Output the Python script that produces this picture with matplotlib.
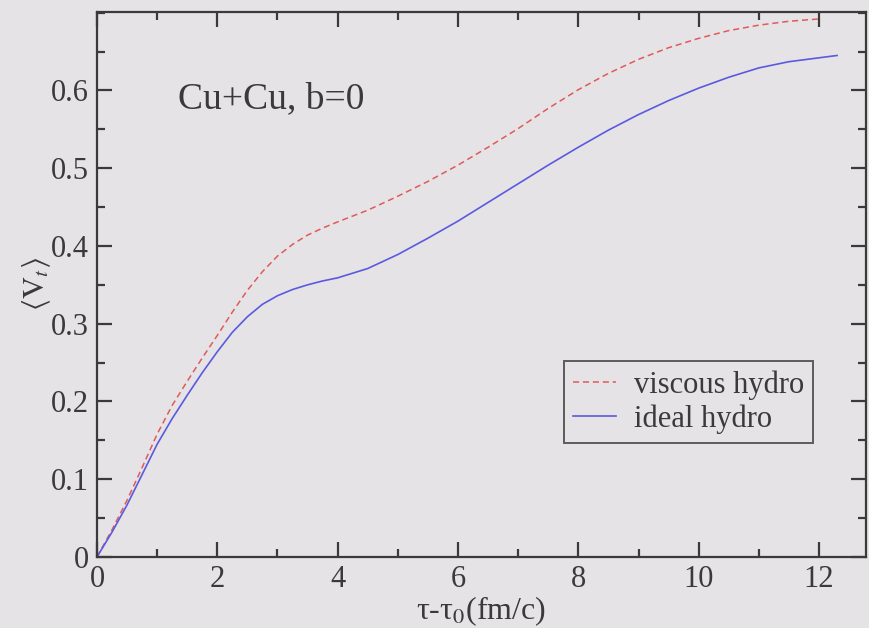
import matplotlib
matplotlib.use("Agg")
import matplotlib.pyplot as plt
from matplotlib.ticker import MultipleLocator, FixedLocator, FixedFormatter

# Transverse flow velocity versus proper time for Cu+Cu central collisions
t_visc = [0, 0.25, 0.5, 0.75, 1.0, 1.25, 1.5, 1.75, 2.0, 2.25, 2.5, 2.75, 3.0,
          3.25, 3.5, 3.75, 4.0, 4.5, 5.0, 5.5, 6.0, 6.5, 7.0, 7.5, 8.0, 8.5,
          9.0, 9.5, 10.0, 10.5, 11.0, 11.5, 12.0]
v_visc = [0, 0.035, 0.073, 0.115, 0.158, 0.195, 0.226, 0.256, 0.285, 0.315,
          0.343, 0.367, 0.387, 0.402, 0.414, 0.423, 0.431, 0.446, 0.464,
          0.483, 0.504, 0.527, 0.551, 0.577, 0.601, 0.622, 0.640, 0.655,
          0.667, 0.677, 0.684, 0.689, 0.692]

t_ideal = [0, 0.25, 0.5, 0.75, 1.0, 1.25, 1.5, 1.75, 2.0, 2.25, 2.5, 2.75,
           3.0, 3.25, 3.5, 3.75, 4.0, 4.5, 5.0, 5.5, 6.0, 6.5, 7.0, 7.5, 8.0,
           8.5, 9.0, 9.5, 10.0, 10.5, 11.0, 11.5, 12.0, 12.3]
v_ideal = [0, 0.032, 0.067, 0.106, 0.145, 0.178, 0.208, 0.237, 0.264, 0.289,
           0.309, 0.325, 0.336, 0.344, 0.350, 0.355, 0.359, 0.371, 0.389,
           0.410, 0.432, 0.456, 0.480, 0.504, 0.527, 0.549, 0.569, 0.587,
           0.603, 0.617, 0.629, 0.637, 0.642, 0.645]

x_ticks = [0, 2, 4, 6, 8, 10, 12]
x_labels = ["0", "2", "4", "6", "8", "10", "12"]
y_ticks = [0, 0.1, 0.2, 0.3, 0.4, 0.5, 0.6]
y_labels = ["0", "0.1", "0.2", "0.3", "0.4", "0.5", "0.6"]

bg = "#e6e3e6"
ink = "#3a3a3a"

plt.rcParams["font.family"] = ["Liberation Serif", "DejaVu Serif"]
plt.rcParams["mathtext.fontset"] = "stix"

fig = plt.figure(figsize=(8.69, 6.28), dpi=100, facecolor=bg)
ax = fig.add_axes([0.1116, 0.1131, 0.8849, 0.8679])
ax.set_facecolor(bg)

ax.plot(t_visc, v_visc, color="#e05a5a", lw=1.1, ls=(0, (4, 2.5)),
        label="viscous hydro")
ax.plot(t_ideal, v_ideal, color="#5a5ae0", lw=1.2, label="ideal hydro")

ax.set_xlim(0, 12.78)
ax.set_ylim(0, 0.701)

ax.xaxis.set_major_locator(FixedLocator(x_ticks))
ax.xaxis.set_major_formatter(FixedFormatter(x_labels))
ax.xaxis.set_minor_locator(MultipleLocator(1))
ax.yaxis.set_major_locator(FixedLocator(y_ticks))
ax.yaxis.set_major_formatter(FixedFormatter(y_labels))
ax.yaxis.set_minor_locator(MultipleLocator(0.05))

ax.tick_params(which="both", direction="in", top=True, right=True,
               color=ink, width=1.6, labelsize=22, labelcolor=ink)
ax.tick_params(axis="x", which="both", pad=6)
ax.tick_params(axis="y", which="both", pad=6)
ax.tick_params(which="major", length=11)
ax.tick_params(which="minor", length=6)
for s in ax.spines.values():
    s.set_color(ink)
    s.set_linewidth(1.6)

ax.set_xlabel("τ-τ$_0$(fm/c)", fontsize=23, color=ink, labelpad=0)
ax.set_ylabel(r"$\langle \mathrm{V}_t\rangle$", fontsize=22, color=ink,
              labelpad=-2)

ax.text(0.105, 0.840, "Cu+Cu, b=0", transform=ax.transAxes, fontsize=27,
        color=ink, va="center", ha="left")

leg = ax.legend(loc="lower left", bbox_to_anchor=(0.607, 0.209), fontsize=22,
                frameon=True, fancybox=False, handlelength=1.4,
                handletextpad=0.6, borderpad=0.3, labelspacing=0.15,
                borderaxespad=0)
leg.get_frame().set_edgecolor(ink)
leg.get_frame().set_linewidth(1.4)
leg.get_frame().set_facecolor(bg)
for txt in leg.get_texts():
    txt.set_color(ink)

fig.savefig("out.png", dpi=100, facecolor=bg)
